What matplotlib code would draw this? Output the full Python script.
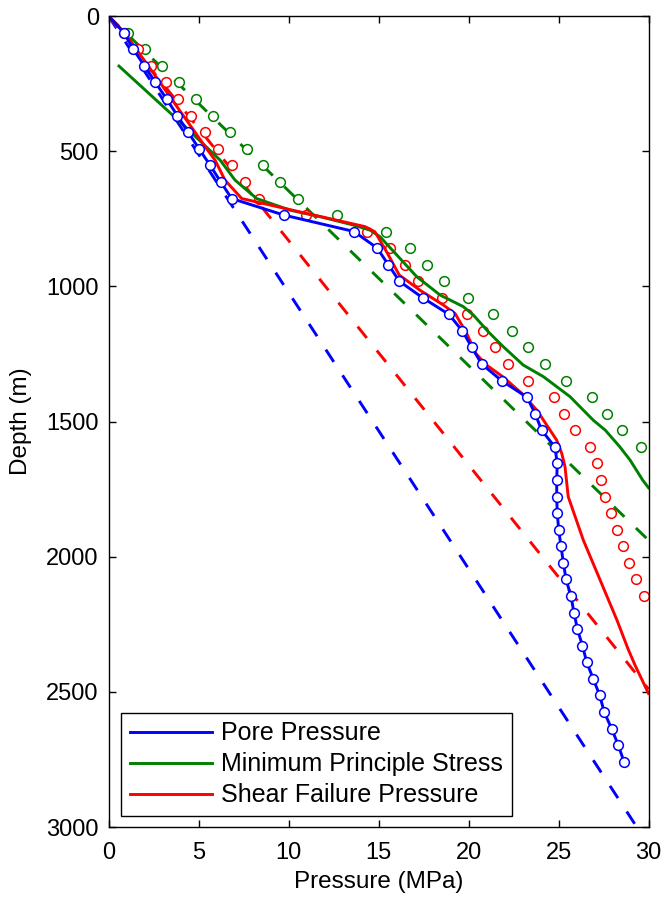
import matplotlib
matplotlib.use("Agg")
import matplotlib.pyplot as plt
from matplotlib.lines import Line2D

plt.rcParams["font.family"] = ["Liberation Sans", "DejaVu Sans"]

# ---- pore pressure (blue, solid line with circles) ----
pore_depth = [0, 62, 123, 184, 245, 307, 368, 429, 491, 552, 613, 675, 736, 797, 858,
              920, 981, 1042, 1104, 1165, 1226, 1287, 1349, 1410, 1471, 1533, 1594,
              1655, 1716, 1778, 1839, 1900, 1962, 2023, 2084, 2146, 2207, 2268, 2329,
              2391, 2452, 2513, 2575, 2636, 2697, 2759]
pore_p = [0.0, 0.86, 1.38, 1.99, 2.6, 3.23, 3.82, 4.42, 5.03, 5.64, 6.23, 6.84, 9.73,
          13.64, 14.92, 15.55, 16.16, 17.45, 18.92, 19.66, 20.19, 20.73, 21.84, 23.25,
          23.7, 24.07, 24.8, 24.93, 24.9, 24.9, 24.93, 25.01, 25.14, 25.27, 25.42, 25.69,
          25.86, 26.05, 26.33, 26.57, 26.93, 27.29, 27.54, 27.95, 28.32, 28.64]

# ---- minimum principle stress (green) ----
minst_depth = [185, 403, 533, 607, 675, 718, 742, 773, 792, 816, 890, 964, 1032, 1075,
               1106, 1168, 1223, 1291, 1334, 1408, 1495, 1532, 1593, 1642, 1717, 1745]
minst_p = [0.58, 4.16, 6.2, 7.03, 8.23, 10.08, 11.75, 13.6, 14.53, 15.08, 16.1, 17.12,
           18.42, 19.71, 20.27, 21.1, 21.93, 23.04, 24.16, 25.64, 26.93, 27.6, 28.4,
           28.97, 29.68, 30.0]
minst_pt_depth = [62, 123, 184, 245, 307, 368, 429, 491, 552, 613, 675, 736, 797, 858,
                  920, 981, 1042, 1104, 1165, 1226, 1287, 1349, 1410, 1471, 1533, 1594]
minst_pt_p = [1.1, 2.03, 2.96, 3.92, 4.84, 5.82, 6.75, 7.68, 8.6, 9.55, 10.54, 12.71,
              15.42, 16.73, 17.69, 18.66, 19.97, 21.38, 22.4, 23.32, 24.23, 25.43, 26.86,
              27.67, 28.54, 29.56]

# ---- shear failure pressure (red) ----
shear_depth = [0, 62, 123, 184, 245, 307, 368, 429, 491, 533, 607, 675, 730, 779, 798,
               878, 958, 1014, 1069, 1100, 1174, 1248, 1291, 1334, 1396, 1458, 1569,
               1618, 1667, 1778, 1939, 2086, 2235, 2339, 2401, 2506]
shear_p = [0.0, 0.9, 1.55, 2.2, 2.85, 3.5, 4.15, 4.8, 5.45, 5.92, 6.47, 7.4, 11.0, 14.25,
           14.8, 15.5, 16.15, 17.3, 18.6, 19.25, 19.9, 20.4, 21.0, 21.9, 22.96, 23.8,
           24.9, 25.18, 25.36, 25.54, 26.38, 27.31, 28.25, 28.85, 29.25, 30.0]
shear_pt_depth = [62, 123, 184, 245, 307, 368, 429, 491, 552, 613, 675, 736, 797, 858,
                  920, 981, 1042, 1104, 1165, 1226, 1287, 1349, 1410, 1471, 1533, 1594,
                  1655, 1716, 1778, 1839, 1900, 1962, 2023, 2084, 2146]
shear_pt_p = [0.86, 1.66, 2.34, 3.18, 3.86, 4.57, 5.36, 6.1, 6.84, 7.58, 8.34, 10.96,
              14.34, 15.66, 16.45, 17.21, 18.51, 19.92, 20.8, 21.47, 22.18, 23.32, 24.73,
              25.32, 25.93, 26.75, 27.12, 27.36, 27.58, 27.92, 28.23, 28.57, 28.93, 29.31,
              29.73]

# ---- hydrostatic reference lines (dashed, end points) ----
hydro_depth = [0, 3000]
hydro_pore_p = [0, 29.35]
hydro_minst_depth = [0, 1939]
hydro_minst_p = [0, 30.0]
hydro_shear_depth = [0, 2490]
hydro_shear_p = [0, 30.0]

BLUE, GREEN, RED = (0, 0, 1), (0, 0.5, 0), (1, 0, 0)
dash = (0, (5, 5.5))

fig = plt.figure(figsize=(6.65, 8.97), dpi=100)
ax = fig.add_axes([0.1632, 0.0780, 0.8120, 0.9041])

ax.plot(hydro_pore_p, hydro_depth, color=BLUE, lw=2.1, linestyle=dash)
ax.plot(hydro_minst_p, hydro_minst_depth, color=GREEN, lw=2.1, linestyle=dash)
ax.plot(hydro_shear_p, hydro_shear_depth, color=RED, lw=2.1, linestyle=dash)

mk = dict(linestyle="none", marker="o", ms=7, mfc="white", mew=1.1)
ax.plot(minst_pt_p, minst_pt_depth, mec=GREEN, **mk)
ax.plot(shear_pt_p, shear_pt_depth, mec=RED, **mk)

ax.plot(minst_p, minst_depth, color=GREEN, lw=2.1)
ax.plot(shear_p, shear_depth, color=RED, lw=2.1)
ax.plot(pore_p, pore_depth, color=BLUE, lw=2.1, marker="o", ms=7, mfc="white",
        mec=BLUE, mew=1.1, markevery=slice(1, None))

ax.set_xlim(0, 30)
ax.set_ylim(3000, 0)
ax.set_xticks([0, 5, 10, 15, 20, 25, 30])
ax.set_yticks([0, 500, 1000, 1500, 2000, 2500, 3000])
ax.tick_params(direction="in", length=5, width=1, top=True, right=True, labelsize=17)
ax.tick_params(axis="x", pad=10.5)
ax.tick_params(axis="y", pad=7)
for s in ax.spines.values():
    s.set_linewidth(1.0)
ax.set_xlabel("Pressure (MPa)", fontsize=17.5, labelpad=5)
ax.set_ylabel("Depth (m)", fontsize=17.5, labelpad=10)

labels = ["Pore Pressure", "Minimum Principle Stress", "Shear Failure Pressure"]
handles = [Line2D([], [], color=c, lw=2.1) for c in (BLUE, GREEN, RED)]
leg = ax.legend(handles, labels, loc="lower left",
                bbox_to_anchor=(0.023, 0.0136), borderaxespad=0, fontsize=18,
                frameon=True, fancybox=False, edgecolor="black", framealpha=1,
                handlelength=3.3, handletextpad=0.35, labelspacing=0.28,
                borderpad=0.35)
leg.get_frame().set_linewidth(1.0)

fig.savefig("out.png", dpi=100)
